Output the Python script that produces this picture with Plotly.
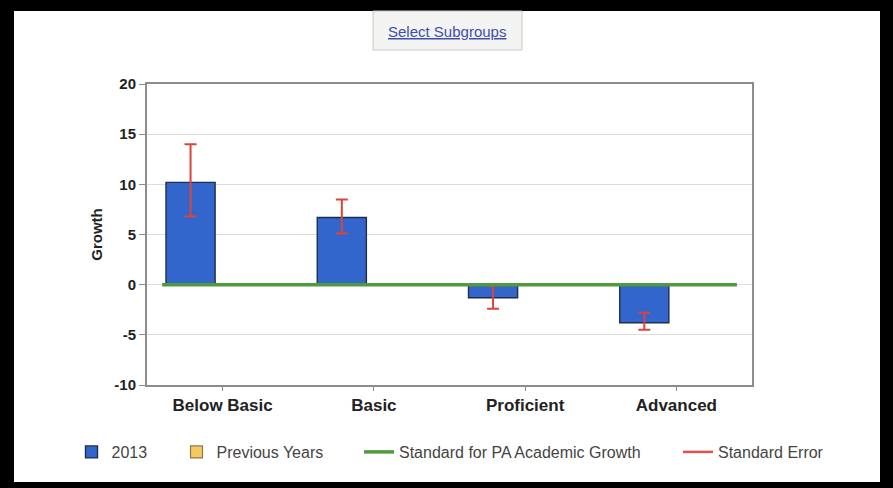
import plotly.graph_objects as go

# ---- data ----
categories = ["Below Basic", "Basic", "Proficient", "Advanced"]
growth_2013 = [10.2, 6.7, -1.3, -3.8]
se_upper = [14.0, 8.5, -0.1, -2.8]
se_lower = [6.8, 5.1, -2.4, -4.5]
previous_years = [None, None, None, None]
standard_value = 0
y_ticks = [-10, -5, 0, 5, 10, 15, 20]
y_tick_labels = ["-10", "-5", "0", "5", "10", "15", "20"]

W, H = 893, 488
L, R, T, B = 147, 141, 84, 103
PW, PH = W - L - R, H - T - B


def px(x):
    return (x - L) / PW


def py(y):
    return (H - B - y) / PH


xpos = list(range(len(categories)))
err_plus = [u - v for u, v in zip(se_upper, growth_2013)]
err_minus = [v - l for l, v in zip(se_lower, growth_2013)]

FONT = "Arial, Liberation Sans, sans-serif"

fig = go.Figure()
fig.add_trace(go.Bar(
    x=xpos, y=growth_2013, name="2013", legend="legend",
    marker=dict(color="#3366cc", line=dict(color="#1f2d4d", width=1.4)),
    error_y=dict(type="data", symmetric=False, array=err_plus, arrayminus=err_minus,
                 color="#d9443c", thickness=2, width=6),
))
fig.add_trace(go.Bar(
    x=xpos, y=previous_years, name="Previous Years", legend="legend2",
    marker=dict(color="#f7c85e", line=dict(color="#8a7a50", width=1.2)),
))
fig.add_trace(go.Scatter(
    x=[xpos[0] - 0.4, xpos[-1] + 0.4], y=[standard_value, standard_value],
    mode="lines", name="Standard for PA Academic Growth", legend="legend3",
    line=dict(color="#4f9a3c", width=3.5),
))
fig.add_trace(go.Scatter(
    x=[None], y=[None], mode="lines", name="Standard Error", legend="legend4",
    line=dict(color="#e0524a", width=2.5),
))

shapes = [
    dict(type="rect", xref="paper", yref="paper", layer="below",
         x0=px(14), x1=px(880), y0=py(482), y1=py(11),
         fillcolor="white", line=dict(width=0)),
    dict(type="rect", xref="paper", yref="paper", layer="below",
         x0=px(373), x1=px(522), y0=py(50), y1=py(11),
         fillcolor="#f3f3f1", line=dict(color="#c8c8c8", width=1)),
]

annotations = [
    dict(xref="paper", yref="paper", x=px(447), y=py(31), showarrow=False,
         text="<u>Select Subgroups</u>", font=dict(family=FONT, size=15, color="#3e4fae"),
         xanchor="center", yanchor="middle"),
]


def leg(x_px):
    return dict(orientation="h", x=px(x_px), xanchor="left", y=py(452), yanchor="middle",
                font=dict(family=FONT, size=16, color="#444444"),
                bgcolor="rgba(0,0,0,0)")


fig.update_layout(
    width=W, height=H,
    margin=dict(l=L, r=R, t=T, b=B, pad=0),
    paper_bgcolor="black", plot_bgcolor="white",
    barmode="group", bargap=0.152, bargroupgap=0.234,
    shapes=shapes, annotations=annotations,
    showlegend=True,
    legend=leg(71.5), legend2=leg(176.5), legend3=leg(359), legend4=leg(678),
    font=dict(family=FONT),
)

fig.update_xaxes(
    range=[-0.5, len(categories) - 0.5], tickvals=xpos, ticktext=categories,
    showgrid=False, zeroline=False, showline=True, linecolor="#8c8c8c", linewidth=2,
    mirror=True, ticks="outside", ticklen=4, tickcolor="#8c8c8c",
    tickfont=dict(family=FONT, size=17, color="#222222", weight="bold"),
)
fig.update_yaxes(
    range=[-10, 20], tickvals=y_ticks, ticktext=y_tick_labels,
    showgrid=True, gridcolor="#dddddd", gridwidth=1,
    zeroline=False, showline=True, linecolor="#8c8c8c", linewidth=2, mirror=True,
    ticks="outside", ticklen=6, tickcolor="#8c8c8c",
    tickfont=dict(family=FONT, size=15, color="#222222", weight="bold"),
    title=dict(text="Growth", standoff=8,
               font=dict(family=FONT, size=15, color="#222222", weight="bold")),
)

fig.write_html("out.html", config={"displayModeBar": False},
               post_script="document.body.style.margin='0px';")
